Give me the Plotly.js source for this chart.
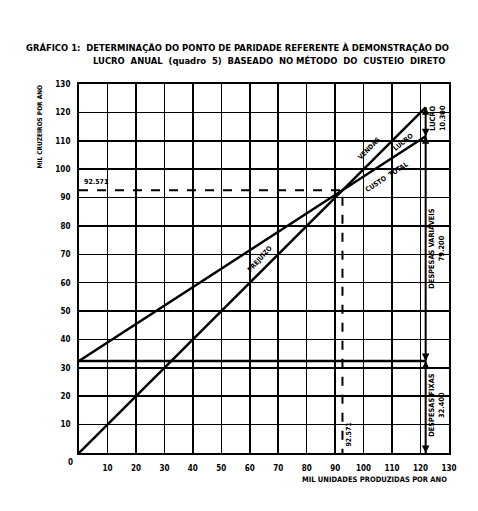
<!DOCTYPE html>
<html>
<head>
<meta charset="utf-8">
<script src="https://cdn.plot.ly/plotly-3.0.1.min.js"></script>
<style>html,body{margin:0;padding:0;background:#fff;}#chart{width:478px;height:511px;}</style>
</head>
<body>
<div id="chart"></div>
<script>
// ---- data (mil unidades / mil cruzeiros) ----
const tickValues = [10, 20, 30, 40, 50, 60, 70, 80, 90, 100, 110, 120, 130];
const tickLabels = ["10", "20", "30", "40", "50", "60", "70", "80", "90", "100", "110", "120", "130"];
const salesX = [0, 121.8];
const salesY = [0, 121.8];
const costX = [0, 121.8];
const costY = [32.4, 111.6];
const fixedX = [0, 121.8];
const fixedY = [32.4, 32.4];
const breakEven = 92.571;
const dimX = 121.8;
const dimLevels = [0, 32.4, 111.6, 121.8];
const dimLabels = ["DESPESAS FIXAS<br>32.400", "DESPESAS VARIÁVEIS<br>79.200", "LUCRO<br>10.300"];
const dimLabelY = [17, 72, 118];

const titleLine1 = "GRÁFICO 1:  DETERMINAÇÃO DO PONTO DE PARIDADE REFERENTE À DEMONSTRAÇÃO DO";
const titleLine2 = "LUCRO  ANUAL  (quadro  5)  BASEADO  NO MÉTODO  DO  CUSTEIO  DIRETO";

const F = "DejaVu Sans Condensed, DejaVu Sans, sans-serif";
const lineStyle = {color: "#000", width: 2.5};

const traces = [
  {x: salesX, y: salesY, mode: "lines", line: lineStyle, hoverinfo: "skip"},
  {x: costX, y: costY, mode: "lines", line: lineStyle, hoverinfo: "skip"},
  {x: fixedX, y: fixedY, mode: "lines", line: lineStyle, hoverinfo: "skip"},
  {x: [0, breakEven, breakEven], y: [breakEven, breakEven, 0], mode: "lines",
   line: {color: "#000", width: 2, dash: "dash"}, hoverinfo: "skip"},
  {x: [dimX, dimX], y: [dimLevels[0], dimLevels[3]], mode: "lines", line: {color: "#000", width: 2}, hoverinfo: "skip"}
];

const ann = [];
ann.push({xref: "paper", yref: "paper", x: -0.148, y: 1.100, xanchor: "left", yanchor: "middle", showarrow: false,
  text: titleLine1, font: {family: F, size: 9.4, weight: "bold", color: "#000"}});
ann.push({xref: "paper", yref: "paper", x: 0.995, y: 1.065, xanchor: "right", yanchor: "middle", showarrow: false,
  text: titleLine2, font: {family: F, size: 9.4, weight: "bold", color: "#000"}});
ann.push({xref: "paper", yref: "paper", x: -0.105, y: 0.885, xanchor: "center", yanchor: "middle", textangle: -90, showarrow: false,
  text: "MIL CRUZEIROS POR ANO", font: {family: F, size: 6.5, weight: "bold", color: "#000"}});
ann.push({xref: "paper", yref: "paper", x: 1.0, y: -0.072, xanchor: "right", yanchor: "middle", showarrow: false,
  text: "MIL UNIDADES PRODUZIDAS POR ANO", font: {family: F, size: 7.5, weight: "bold", color: "#000"}});
ann.push({xref: "paper", yref: "paper", x: -0.024, y: -0.027, xanchor: "center", yanchor: "middle", showarrow: false,
  text: "0", font: {family: F, size: 8, weight: "bold", color: "#000"}});
// break-even labels
ann.push({xref: "x", yref: "y", x: 1, y: breakEven + 0.8, xanchor: "left", yanchor: "bottom", showarrow: false,
  text: String(breakEven), font: {family: F, size: 7, weight: "bold", color: "#000"}});
ann.push({xref: "x", yref: "y", x: breakEven + 2.3, y: 6.5, xanchor: "center", yanchor: "middle", textangle: -90, showarrow: false,
  text: String(breakEven), font: {family: F, size: 7, weight: "bold", color: "#000"}});
// line labels
const lf = {family: F, size: 6.8, weight: "bold", color: "#000"};
ann.push({xref: "x", yref: "y", x: 101.8, y: 107.2, xanchor: "center", yanchor: "middle", textangle: -45, showarrow: false, text: "VENDAS", font: lf});
ann.push({xref: "x", yref: "y", x: 114.1, y: 109.4, xanchor: "center", yanchor: "middle", textangle: -39, showarrow: false, text: "LUCRO", font: lf});
ann.push({xref: "x", yref: "y", x: 108.2, y: 97.4, xanchor: "center", yanchor: "middle", textangle: -33, showarrow: false, text: "CUSTO  TOTAL", font: lf});
ann.push({xref: "x", yref: "y", x: 63.5, y: 68.6, xanchor: "center", yanchor: "middle", textangle: -48, showarrow: false, text: "PREJUÍZO", font: lf});
// dimension labels
for (let i = 0; i < dimLabels.length; i++) {
  ann.push({xref: "x", yref: "y", x: 125.8, y: dimLabelY[i], xanchor: "center", yanchor: "middle", textangle: -90, showarrow: false,
    text: dimLabels[i], font: {family: F, size: 7.4, weight: "bold", color: "#000"}});
}
// dimension arrows
for (let i = 0; i < dimLevels.length; i++) {
  const lv = dimLevels[i];
  if (i > 0) ann.push({xref: "x", yref: "y", axref: "x", ayref: "y", x: dimX, y: lv, ax: dimX, ay: lv - 3,
    showarrow: true, arrowhead: 2, arrowsize: 1, arrowwidth: 1.5, arrowcolor: "#000", text: ""});
  if (i < dimLevels.length - 1) ann.push({xref: "x", yref: "y", axref: "x", ayref: "y", x: dimX, y: lv, ax: dimX, ay: lv + 3,
    showarrow: true, arrowhead: 2, arrowsize: 1, arrowwidth: 1.5, arrowcolor: "#000", text: ""});
}

const axisCommon = {
  range: [0, 130], tickvals: tickValues, ticktext: tickLabels, showgrid: true, gridcolor: "#000", gridwidth: 1.6,
  zeroline: false, showline: true, linecolor: "#000", linewidth: 2, mirror: true, ticks: "",
  tickfont: {family: F, size: 8, weight: "bold", color: "#000"}, fixedrange: true
};

const layout = {
  width: 478, height: 511, paper_bgcolor: "#fff", plot_bgcolor: "#fff", showlegend: false,
  margin: {l: 79, r: 29, t: 84, b: 58},
  xaxis: Object.assign({}, axisCommon, {ticklabelstandoff: 6}),
  yaxis: Object.assign({}, axisCommon, {ticklabelstandoff: 5}),
  annotations: ann
};

Plotly.newPlot("chart", traces, layout, {staticPlot: true});
</script>
</body>
</html>
